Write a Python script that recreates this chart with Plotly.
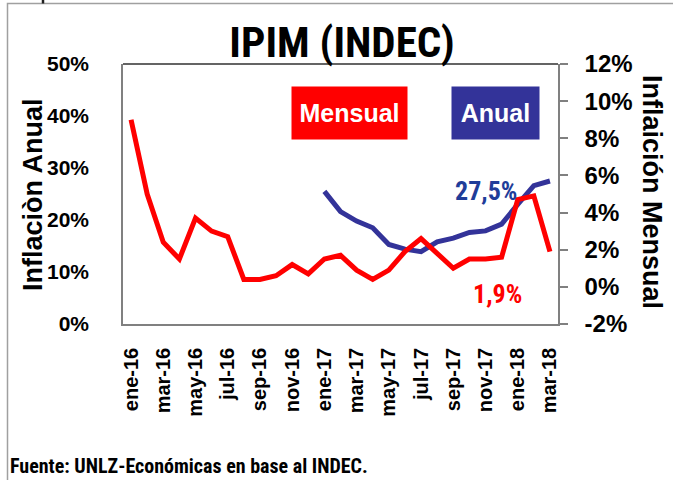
import plotly.graph_objects as go

months = ["ene-16", "feb-16", "mar-16", "abr-16", "may-16", "jun-16", "jul-16", "ago-16",
          "sep-16", "oct-16", "nov-16", "dic-16", "ene-17", "feb-17", "mar-17", "abr-17",
          "may-17", "jun-17", "jul-17", "ago-17", "sep-17", "oct-17", "nov-17", "dic-17",
          "ene-18", "feb-18", "mar-18"]
mensual = [9.0, 5.0, 2.4, 1.5, 3.7, 3.0, 2.7, 0.4, 0.4, 0.6, 1.2, 0.7, 1.5, 1.7, 0.9, 0.4,
           0.9, 1.9, 2.6, 1.8, 1.0, 1.5, 1.5, 1.6, 4.7, 4.9, 1.9]
anual = [None] * 12 + [25.5, 21.6, 19.8, 18.5, 15.3, 14.4, 13.9, 15.8, 16.5, 17.6, 17.9,
                       19.2, 23.0, 26.6, 27.5]
xtick_labels = months[::2]
right_tickvals = [-2, 0, 2, 4, 6, 8, 10, 12]
right_ticktext = ["-2%", "0%", "2%", "4%", "6%", "8%", "10%", "12%"]

W, H = 673, 480
L, R, T, B = 123, 558, 64, 324

RED = "#FF0000"
BLUE = "#333399"
NARROW = "Liberation Sans Narrow, Arial Narrow, Roboto Condensed, Liberation Sans, Arial"
ARIAL = "Liberation Sans, Arial"

def px(x):
    return (x - L) / (R - L)

def py(y):
    return (B - y) / (B - T)

fig = go.Figure()
fig.add_trace(go.Scatter(x=months, y=anual, mode="lines", name="Anual",
                         line=dict(color=BLUE, width=5), yaxis="y"))
fig.add_trace(go.Scatter(x=months, y=mensual, mode="lines", name="Mensual",
                         line=dict(color=RED, width=5), yaxis="y2"))

tickfont_l = dict(family=ARIAL, size=21, color="black", weight="bold")
fig.update_layout(
    width=W, height=H,
    margin=dict(l=L, r=W - R, t=T, b=H - B, autoexpand=False),
    paper_bgcolor="white", plot_bgcolor="white",
    showlegend=False,
    title=dict(text="IPIM (INDEC)", x=px(342), xanchor="center", xref="paper",
               y=1 - 42 / H, yanchor="middle", yref="container",
               font=dict(family=NARROW, size=43, color="black", weight="bold")),
    xaxis=dict(type="category", range=[-0.5, 26.5], tickmode="array",
               tickvals=xtick_labels, ticktext=xtick_labels, tickangle=-90,
               tickfont=dict(family=ARIAL, size=20, color="black", weight="bold"),
               showgrid=False, showline=True, automargin=False,
               linecolor="#808080", linewidth=1.5, ticks="", ticklabelstandoff=14,
               zeroline=False),
    yaxis=dict(range=[0, 50], dtick=10, ticksuffix="%", showgrid=False,
               showline=True, linecolor="#808080", linewidth=1.5, ticks="",
               tickfont=tickfont_l, ticklabelstandoff=28, zeroline=False, automargin=False),
    yaxis2=dict(range=[-2, 12], tickmode="array", tickvals=right_tickvals,
                ticktext=right_ticktext, overlaying="y", side="right",
                showgrid=False, showline=True, linecolor="#808080", linewidth=1.5,
                ticks="outside", ticklen=8, tickcolor="#808080", tickwidth=1.5,
                tickfont=dict(family=ARIAL, size=24, color="black", weight="bold"),
                ticklabelstandoff=12, zeroline=False, automargin=False),
)

# axis titles
fig.add_annotation(text="Inflaciòn Anual", xref="paper", yref="paper", x=px(33), y=py(195),
                   xanchor="center", yanchor="middle", showarrow=False, textangle=-90,
                   font=dict(family=ARIAL, size=27, color="black", weight="bold"))
fig.add_annotation(text="Inflaición Mensual", xref="paper", yref="paper", x=px(652),
                   y=py(192), xanchor="center", yanchor="middle", showarrow=False,
                   textangle=90,
                   font=dict(family=ARIAL, size=27, color="black", weight="bold"))

# top border of plot area and outer chart frame
fig.add_shape(type="line", xref="paper", yref="paper", x0=0, x1=1, y0=1, y1=1,
              line=dict(color="#303030", width=1.5))
fig.add_shape(type="rect", xref="paper", yref="paper", x0=px(7.5), x1=px(700),
              y0=py(500), y1=py(3.5), line=dict(color="#A0A0A0", width=1.5))
fig.add_shape(type="line", xref="paper", yref="paper", x0=px(43), x1=px(43),
              y0=py(0), y1=py(3.5), line=dict(color="#202020", width=2.5))

# legend boxes
fig.add_annotation(text="Mensual", xref="paper", yref="paper", x=px(349.5), y=py(113),
                   xanchor="center", yanchor="middle", showarrow=False,
                   width=115, height=52, bgcolor=RED, borderpad=0,
                   font=dict(family=ARIAL, size=25, color="white", weight="bold"))
fig.add_annotation(text="Anual", xref="paper", yref="paper", x=px(495.5), y=py(113),
                   xanchor="center", yanchor="middle", showarrow=False,
                   width=87, height=52, bgcolor=BLUE, borderpad=0,
                   font=dict(family=ARIAL, size=25, color="white", weight="bold"))

# value labels
fig.add_annotation(text="27,5%", xref="paper", yref="paper", x=px(486), y=py(191),
                   xanchor="center", yanchor="middle", showarrow=False,
                   font=dict(family=NARROW, size=26, color="#1F3D99", weight="bold"))
fig.add_annotation(text="1,9%", xref="paper", yref="paper", x=px(497), y=py(294),
                   xanchor="center", yanchor="middle", showarrow=False,
                   font=dict(family=NARROW, size=26, color=RED, weight="bold"))

# source
fig.add_annotation(text="Fuente: UNLZ-Económicas en base al INDEC.", xref="paper",
                   yref="paper", x=px(8), y=py(466), xanchor="left", yanchor="middle",
                   showarrow=False,
                   font=dict(family=NARROW, size=20, color="black", weight="bold"))

fig.write_html("out.html", config={"displayModeBar": False},
               post_script="document.body.style.margin='0';document.body.style.overflow='hidden';")
